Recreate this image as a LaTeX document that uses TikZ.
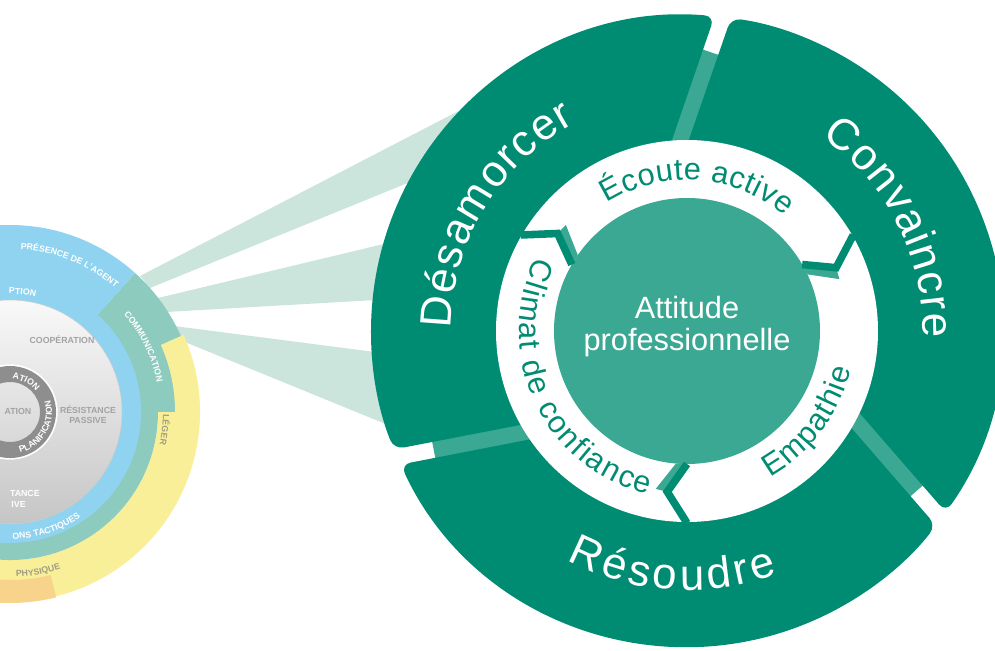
\documentclass[tikz,border=0pt]{standalone}
\usepackage{fontspec}
\setmainfont{Liberation Sans}
\usetikzlibrary{decorations.text}
\definecolor{dkgreen}{HTML}{008C72}
\definecolor{ltgreen}{HTML}{3AA892}
\definecolor{raycol}{HTML}{CBE4DC}
\definecolor{lblue}{HTML}{8FD3F0}
\definecolor{lteal}{HTML}{8CCBBE}
\definecolor{lyellow}{HTML}{F9EF98}
\definecolor{lorange}{HTML}{F8D38C}
\definecolor{greytxt}{HTML}{A3A3A3}
\definecolor{olivetxt}{HTML}{A09E82}
\definecolor{ringgrey}{HTML}{8E8E8E}
\newcommand\bigfnt{\fontsize{25}{25}\selectfont\color{white}}
\newcommand\midfnt{\fontsize{17.5}{17.5}\selectfont\color{dkgreen}}
\newcommand\smw{\fontsize{5}{5}\selectfont\bfseries\color{white}}
\newcommand\smo{\fontsize{5}{5}\selectfont\bfseries\color{olivetxt}}
\begin{document}
\begin{tikzpicture}[x=0.02cm, y=0.02cm,
  seg/.style={fill=dkgreen, rounded corners=0.2cm},
  gapstripe/.style={fill=ltgreen},
  chev/.style={draw=dkgreen, line width=4.3pt, line join=miter},
  chevshade/.style={fill=ltgreen},
  ray/.style={fill=raycol},
  arclabel/.style={decorate, decoration={text along path, text align=center, text={#1}}},
  greylabel/.style={font=\fontsize{5}{5.8}\selectfont\bfseries, text=greytxt, align=center, inner sep=0pt},
  whitelabel/.style={font=\fontsize{5}{5.8}\selectfont\bfseries, text=white, inner sep=0pt}]
\useasboundingbox (0,0) rectangle (995,650);
\clip (0,0) rectangle (995,650);

% rays from the communication segment
\fill[ray] (140,374) -- (475.5,547.8) -- (441.5,480.8) -- (150,362) -- cycle;
\fill[ray] (158,352) -- (411,412.5) -- (397,351.2) -- (166,338) -- cycle;
\fill[ray] (174,324) -- (395,295.4) -- (408.8,216.5) -- (180,310) -- cycle;

% left diagram
\begin{scope}[shift={(10,238)}]
  \fill[lyellow] (-100:148) arc[start angle=-100,end angle=24,radius=148] -- (24:190) arc[start angle=24,end angle=-100,radius=190] -- cycle;
  \fill[lorange] (-100:168) arc[start angle=-100,end angle=-76,radius=168] -- (-76:191) arc[start angle=-76,end angle=-100,radius=191] -- cycle;
  \fill[lteal] (0,0) -- (-100:148) arc[start angle=-100,end angle=48,radius=148] -- cycle;
  \fill[lteal] (0,0) -- (0:165) arc[start angle=0,end angle=24,radius=165] -- (24:187) arc[start angle=24,end angle=48,radius=187] -- cycle;
  \fill[lblue] (0,0) -- (48:187) arc[start angle=48,end angle=190,radius=187] -- cycle;
  \fill[lblue] (0,0) circle[radius=131];
  \shade[top color=white!95!gray, bottom color=gray!45, draw=gray!40, line width=0.3pt] (0,0) circle[radius=112];
  \fill[ringgrey, even odd rule] (0,0) circle[radius=46] (0,0) circle[radius=30];
  \draw[white, line width=0.8pt] (0,0) circle[radius=47];
  % texts
  \path[arclabel={|\smw|PRÉSENCE DE L'AGENT}] (110:163) arc[start angle=110,end angle=26,radius=163];
  \path[arclabel={|\smw|PTION}] (110:118) arc[start angle=110,end angle=58,radius=118];
  \path[arclabel={|\smw|COMMUNICATION}] (60:150) arc[start angle=60,end angle=-8,radius=150];
  \path[arclabel={|\smo|LÉGER}] (30:153) arc[start angle=30,end angle=-43,radius=153];
  \path[arclabel={|\smw|ONS TACTIQUES}] (250:127) arc[start angle=250,end angle=325,radius=127];
  \path[arclabel={|\smo|PHYSIQUE}] (250:165) arc[start angle=250,end angle=310,radius=165];
  \path[arclabel={|\smw|ATION}] (100:33) arc[start angle=100,end angle=24,radius=33];
  \path[arclabel={|\smw|PLANIFICATION}] (-95:42) arc[start angle=-95,end angle=35,radius=42];
  \node[greylabel] (coop) at (52,72) {COOPÉRATION};
  \node[greylabel] (sit) at (8,1) {ATION};
  \node[greylabel] (rp) at (78,-3) {RÉSISTANCE\\PASSIVE};
  \node[whitelabel, anchor=east] (ra1) at (30,-81) {TANCE};
  \node[whitelabel, anchor=east] (ra2) at (16,-92) {IVE};
\end{scope}

% main diagram
\begin{scope}[shift={(687,319)}]
  \foreach \a in {0,-120,120}
    \fill[gapstripe, rotate=\a] (-29.83,151.26) -- (15.10,281.74) -- (32.12,275.88) -- (-12.81,145.40) -- cycle;
  \foreach \a in {0,-120,120}
    \fill[seg, rotate=\a] (-28.88,150.93) -- (27.55,314.79) arc[start angle=85.0,end angle=202.0,radius=316] -- (-119.32,-84.79) -- (0,0) -- cycle;
  \fill[white] (0,0) circle[radius=191];
  \fill[ltgreen] (0,0) circle[radius=133];
  \foreach \a in {0,-120,120} {
    \fill[chevshade, rotate=\a] (150:133) -- (143:162) -- (138.8:161) -- (145.2:133) -- cycle;
    \draw[chev, rotate=\a] (150:192) -- (143:162) -- (150:133);
  }
  \node[text=white, font=\fontsize{17.5}{18.2}\selectfont, align=center] (att) at (0,4) {Attitude\\professionnelle};
  \path[arclabel={|\bigfnt\kern0.8pt|Désamorcer}] (190:236) arc[start angle=190,end angle=108,radius=236];
  \path[arclabel={|\bigfnt\kern0.8pt|Convaincre}] (68:236) arc[start angle=68,end angle=-14,radius=236];
  \path[arclabel={|\bigfnt\kern2.2pt|Résoudre}] (226:259) arc[start angle=226,end angle=306,radius=259];
  \path[arclabel={|\midfnt\kern0.3pt|Écoute active}] (126:151) arc[start angle=126,end angle=46,radius=151];
  \path[arclabel={|\midfnt\kern1.0pt|Climat de confiance}] (146:168) arc[start angle=146,end angle=264,radius=168];
  \path[arclabel={|\midfnt\kern0.7pt|Empathie}] (284:168) arc[start angle=284,end angle=362,radius=168];
\end{scope}
\end{tikzpicture}
\end{document}
